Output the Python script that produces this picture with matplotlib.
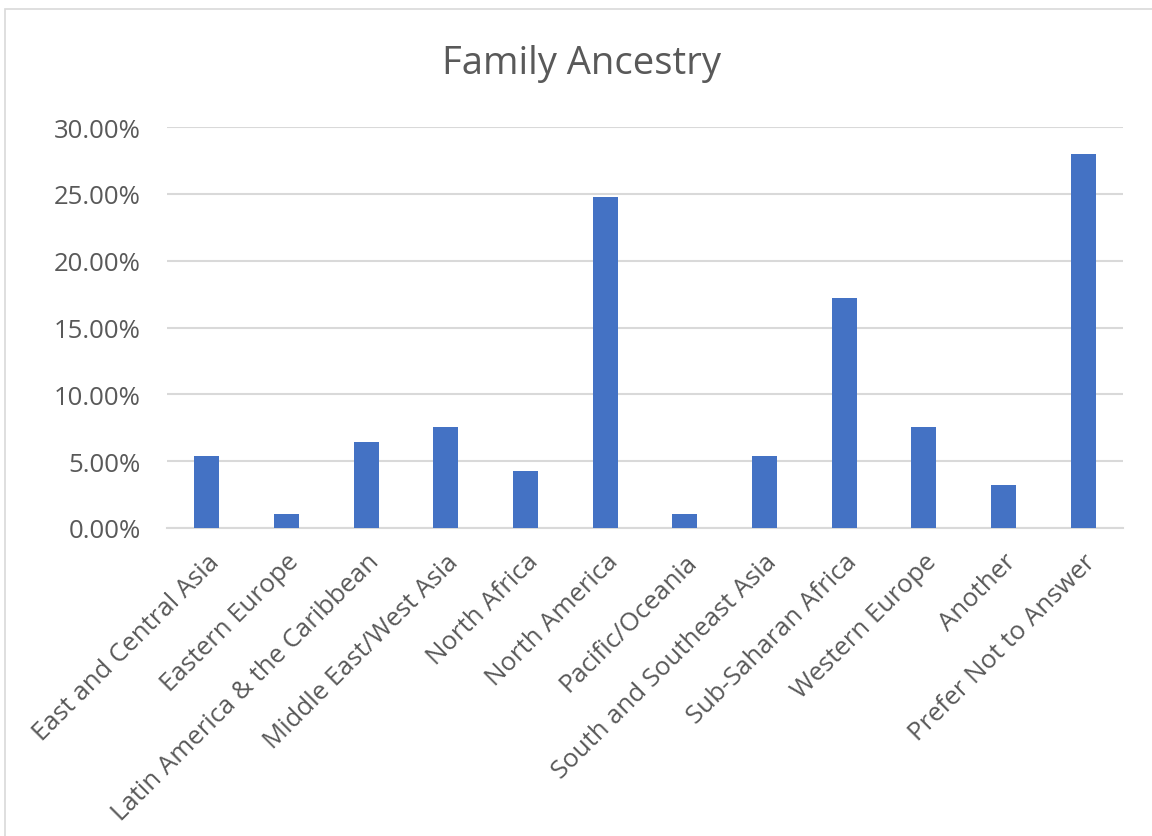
import matplotlib
matplotlib.use("Agg")
import matplotlib.pyplot as plt
from matplotlib.patches import Rectangle
from matplotlib.ticker import PercentFormatter

categories = [
    "East and Central Asia",
    "Eastern Europe",
    "Latin America & the Caribbean",
    "Middle East/West Asia",
    "North Africa",
    "North America",
    "Pacific/Oceania",
    "South and Southeast Asia",
    "Sub-Saharan Africa",
    "Western Europe",
    "Another",
    "Prefer Not to Answer",
]
shares = [5.38, 1.08, 6.45, 7.53, 4.30, 24.73, 1.08, 5.38, 17.20, 7.53, 3.23, 27.96]
y_ticks = [0, 5, 10, 15, 20, 25, 30]

text_color = "#595959"
bar_color = "#4472C4"
grid_color = "#D9D9D9"

plt.rcParams["font.family"] = ["Open Sans", "DejaVu Sans"]

fig = plt.figure(figsize=(11.52, 8.37), dpi=100)
# chart border, cropped on the right and bottom like the screenshot
fig.patches.append(Rectangle((5 / 1152, -0.05), 1.2, 1 - 10 / 837 + 0.05,
                             transform=fig.transFigure, fill=False,
                             edgecolor="#D9D9D9", linewidth=1.2))

ax = fig.add_axes([167 / 1152, 1 - 529 / 837, (1123 - 167) / 1152, (529 - 128) / 837])
x = range(len(categories))
ax.bar(x, shares, width=0.31, color=bar_color, zorder=3)

ax.set_xlim(-0.5, len(categories) - 0.5)
ax.set_ylim(0, 30)
ax.set_yticks(y_ticks)
ax.yaxis.set_major_formatter(PercentFormatter(decimals=2))
ax.grid(axis="y", color=grid_color, linewidth=1.5, zorder=0)

for side in ["top", "right", "left"]:
    ax.spines[side].set_visible(False)
ax.spines["bottom"].set_color(grid_color)
ax.spines["bottom"].set_linewidth(1.5)

ax.tick_params(axis="both", length=0, labelsize=18.5, colors=text_color)
ax.tick_params(axis="y", pad=19)
ax.set_xticks(list(x))
ax.set_xticklabels(categories, rotation=45, ha="right", rotation_mode="anchor")
ax.tick_params(axis="x", pad=15)

fig.text(582 / 1152, 1 - 64 / 837, "Family Ancestry", ha="center", va="center",
         fontsize=27.5, color=text_color)

fig.savefig("out.png", dpi=100)
